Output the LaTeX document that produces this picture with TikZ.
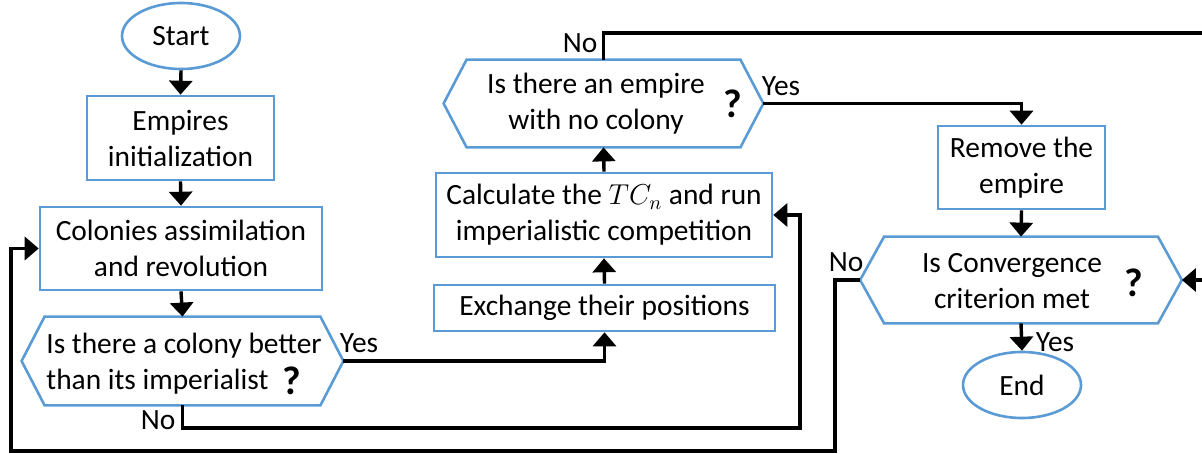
\documentclass[tikz,border=0pt]{standalone}
\usepackage{fontspec}
\setmainfont{Carlito}
\usetikzlibrary{arrows.meta,shapes.geometric}
\definecolor{boxblue}{RGB}{91,155,213}
\newcommand\hexdraw[2]{%
  \draw[boxblue,line width=1.3pt,line join=miter]
    ([xshift=#2]#1.north west) -- ([xshift=-#2]#1.north east) -- (#1.east)
    -- ([xshift=-#2]#1.south east) -- ([xshift=#2]#1.south west) -- (#1.west) -- cycle;}
\begin{document}
\begin{tikzpicture}[x=0.5pt,y=-0.5pt,
  font=\fontsize{14.7}{18}\selectfont,
  box/.style={draw=boxblue,line width=1.3pt,fill=white,inner sep=0pt,align=center},
  term/.style={box,ellipse},
  hexa/.style={inner sep=0pt},
  conn/.style={line width=1.7pt,black},
  arr/.style={conn,-{Triangle[width=11.5pt,length=7pt]}},
  lbl/.style={inner sep=0pt},
  qm/.style={inner sep=0pt,font=\bfseries\fontsize{20}{22}\selectfont}]
\useasboundingbox (0,0) rectangle (1202,454);
\clip (0,0) rectangle (1202,454);

% shapes
\node[term,minimum width=59pt,minimum height=33pt] (start) at (181,36) {Start};
\node[box,minimum width=93.5pt,minimum height=42pt] (emp) at (180.5,138) {Empires\\initialization};
\node[box,minimum width=141pt,minimum height=41.5pt] (col) at (181,248.5) {Colonies assimilation\\and revolution};
\node[hexa,minimum width=160.5pt,minimum height=44pt] (h1) at (182.5,361) {};
\node[box,minimum width=170.5pt,minimum height=23pt] (exch) at (604.5,308) {Exchange their positions};
\node[box,minimum width=168pt,minimum height=42pt] (calc) at (604,215) {Calculate the $TC_n$ and run\\imperialistic competition};
\node[hexa,minimum width=159.5pt,minimum height=43.5pt] (h2) at (603.5,103.5) {};
\node[box,minimum width=83.5pt,minimum height=41.5pt] (rem) at (1021.5,167.5) {Remove the\\empire};
\node[hexa,minimum width=160.5pt,minimum height=43pt] (conv) at (1021,280) {};
\node[term,minimum width=59pt,minimum height=33pt] (end) at (1022,385) {End};

\hexdraw{h1}{11.5pt}
\hexdraw{h2}{11.5pt}
\hexdraw{conv}{12pt}

% texts inside hexagons
\node[lbl,anchor=west,align=left] (h1t) at (46,364) {Is there a colony better\\than its imperialist};
\node[qm] (q1) at (292,381) {?};
\node[lbl,align=center] (h2t) at (596,104) {Is there an empire\\with no colony};
\node[qm] (q2) at (733,104) {?};
\node[lbl,align=center] (convt) at (1012,281) {Is Convergence\\criterion met};
\node[qm] (q3) at (1134,283) {?};

% labels
\node[lbl] (y1) at (359,343) {Yes};
\node[lbl] (n1) at (158,420) {No};
\node[lbl] (n2) at (580,43) {No};
\node[lbl] (y2) at (781,86) {Yes};
\node[lbl] (n3) at (846,262) {No};
\node[lbl] (y3) at (1055,342) {Yes};

% connectors
\draw[arr] (start.south) -- (emp.north);
\draw[arr] (emp.south) -- (col.north);
\draw[arr] (col.south) -- (h1.north);
\draw[arr] (h1.east) -| (exch.south);
\draw[arr] (exch.north) -- (calc.south);
\draw[arr] (calc.north) -- (h2.south);
\draw[arr] (h2.east) -| (rem.north);
\draw[arr] (rem.south) -- (conv.north);
\draw[arr] (conv.south) -- (end.north);

\coordinate (c1) at (800,428);
\draw[arr] (h1.south) |- (c1) |- (calc.east);

\coordinate (la) at (835,451);
\coordinate (lb) at (11,451);
\draw[arr] (conv.west) -| (la) -- (lb) |- (col.west);

\coordinate (ta) at (1220,33);
\draw[arr] (h2.north) |- (ta) |- (conv.east);
\end{tikzpicture}
\end{document}
